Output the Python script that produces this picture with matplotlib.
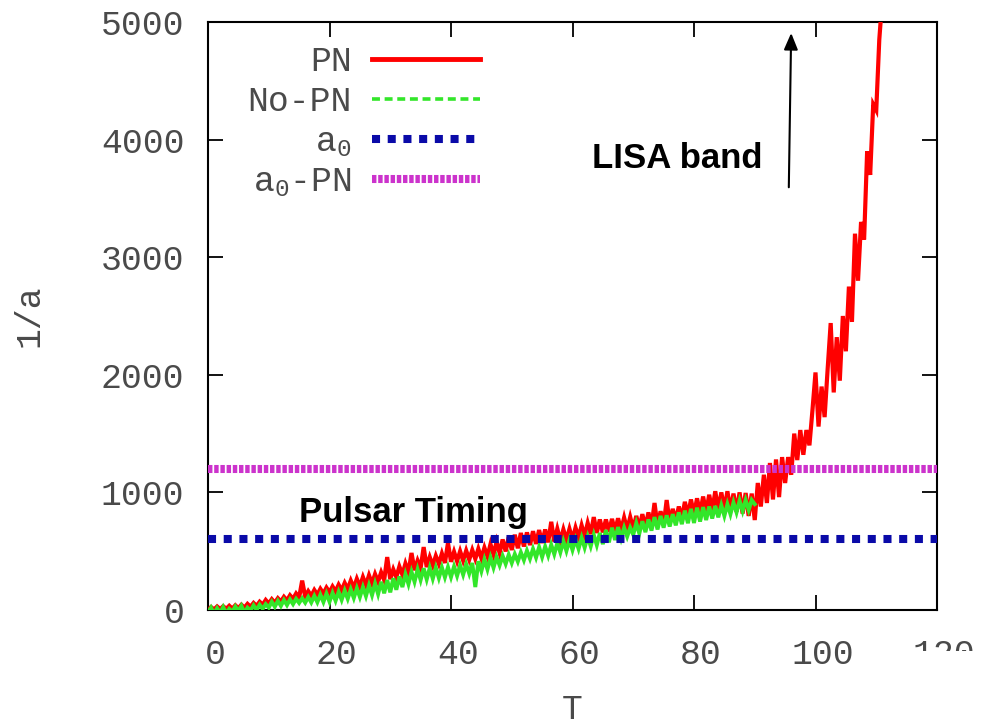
import matplotlib
matplotlib.use("Agg")
import matplotlib.pyplot as plt
import matplotlib.transforms as mtransforms
from matplotlib.lines import Line2D
from matplotlib.patches import Rectangle

# --- data ------------------------------------------------------------------
# common sampling times for both runs (T = 0 ... 90, half steps)
sample_t = [0, 0.5, 1, 1.5, 2, 2.5, 3, 3.5, 4, 4.5,
            5, 5.5, 6, 6.5, 7, 7.5, 8, 8.5, 9, 9.5,
            10, 10.5, 11, 11.5, 12, 12.5, 13, 13.5, 14, 14.5,
            15, 15.5, 16, 16.5, 17, 17.5, 18, 18.5, 19, 19.5,
            20, 20.5, 21, 21.5, 22, 22.5, 23, 23.5, 24, 24.5,
            25, 25.5, 26, 26.5, 27, 27.5, 28, 28.5, 29, 29.5,
            30, 30.5, 31, 31.5, 32, 32.5, 33, 33.5, 34, 34.5,
            35, 35.5, 36, 36.5, 37, 37.5, 38, 38.5, 39, 39.5,
            40, 40.5, 41, 41.5, 42, 42.5, 43, 43.5, 44, 44.5,
            45, 45.5, 46, 46.5, 47, 47.5, 48, 48.5, 49, 49.5,
            50, 50.5, 51, 51.5, 52, 52.5, 53, 53.5, 54, 54.5,
            55, 55.5, 56, 56.5, 57, 57.5, 58, 58.5, 59, 59.5,
            60, 60.5, 61, 61.5, 62, 62.5, 63, 63.5, 64, 64.5,
            65, 65.5, 66, 66.5, 67, 67.5, 68, 68.5, 69, 69.5,
            70, 70.5, 71, 71.5, 72, 72.5, 73, 73.5, 74, 74.5,
            75, 75.5, 76, 76.5, 77, 77.5, 78, 78.5, 79, 79.5,
            80, 80.5, 81, 81.5, 82, 82.5, 83, 83.5, 84, 84.5,
            85, 85.5, 86, 86.5, 87, 87.5, 88, 88.5, 89, 89.5,
            90]

# PN run, 1/a on sample_t
pn_val = [0, 25, 5, 30, 8, 32, 10, 36, 12, 40,
          15, 45, 20, 52, 28, 60, 35, 70, 45, 85,
          55, 92, 62, 100, 72, 112, 82, 125, 95, 140,
          105, 250, 112, 160, 120, 170, 130, 180, 140, 190,
          150, 200, 158, 215, 168, 230, 178, 250, 188, 265,
          200, 280, 212, 295, 225, 305, 240, 320, 255, 450,
          262, 345, 280, 370, 300, 395, 320, 485, 338, 420,
          355, 535, 365, 450, 378, 460, 392, 480, 400, 570,
          410, 495, 415, 500, 420, 505, 428, 510, 435, 520,
          440, 530, 455, 560, 470, 580, 485, 600, 498, 620,
          510, 640, 525, 655, 540, 660, 552, 670, 562, 680,
          570, 685, 575, 750, 582, 690, 590, 685, 596, 690,
          600, 700, 615, 720, 630, 740, 645, 790, 655, 770,
          660, 770, 665, 775, 670, 780, 678, 785, 685, 790,
          690, 800, 696, 815, 702, 830, 708, 910, 714, 840,
          720, 935, 740, 860, 760, 880, 780, 920, 800, 940,
          810, 950, 820, 965, 830, 980, 840, 1010, 848, 1000,
          850, 1010, 845, 990, 835, 1000, 820, 995, 800, 990,
          765]

# PN run continues after the No-PN run stops
pn_tail_t = [90.5, 91, 91.5, 92, 92.5, 93, 93.5, 94, 94.5, 95,
             95.5, 96, 96.5, 97, 97.5, 98, 98.5, 99, 99.5, 100,
             100.5, 101, 101.5, 102, 102.5, 103, 103.5, 104, 104.5, 105,
             105.5, 106, 106.5, 107, 107.5, 108, 108.5, 109, 109.5, 110,
             110.5, 111]
pn_tail_val = [1080, 880, 1150, 910, 1250, 940, 1280, 960, 1300, 1080,
               1300, 1150, 1500, 1275, 1530, 1320, 1530, 1400, 1700, 2020,
               1560, 1900, 1640, 2050, 2440, 1850, 2320, 1950, 2500, 2200,
               2750, 2450, 3200, 2800, 3300, 3150, 3900, 3700, 4300, 4250,
               4850, 5200]

# No-PN run, 1/a on sample_t
nopn_val = [-20, 20, -35, 15, -25, 25, -30, 10, -15, 30,
            -10, 35, -25, 20, -5, 40, 0, 45, 10, 50,
            20, 70, 28, 78, 35, 85, 42, 90, 50, 95,
            60, 100, 62, 110, 64, 120, 66, 130, 68, 140,
            70, 145, 78, 155, 86, 165, 95, 175, 102, 185,
            110, 195, 118, 210, 126, 225, 135, 240, 142, 255,
            150, 270, 172, 285, 195, 305, 220, 325, 240, 345,
            255, 355, 260, 358, 266, 360, 272, 362, 278, 365,
            280, 370, 290, 380, 300, 390, 310, 400, 195, 415,
            330, 430, 345, 445, 360, 450, 380, 460, 392, 470,
            400, 475, 412, 490, 424, 505, 436, 520, 446, 535,
            450, 540, 462, 555, 475, 570, 490, 585, 502, 595,
            510, 600, 520, 615, 530, 625, 542, 640, 552, 655,
            560, 680, 575, 700, 595, 705, 610, 700, 625, 700,
            640, 740, 650, 755, 662, 770, 675, 790, 685, 800,
            700, 805, 710, 815, 720, 830, 730, 845, 738, 860,
            740, 870, 752, 875, 765, 880, 778, 885, 788, 890,
            800, 900, 815, 915, 830, 930, 842, 935, 850, 935,
            900]

# constant levels
a0_level = 600
a0_pn_level = 1200

x_ticks = [0, 20, 40, 60, 80, 100, 120]
y_ticks = [0, 1000, 2000, 3000, 4000, 5000]

# --- figure -----------------------------------------------------------------
mono = "Liberation Mono"
plt.rcParams["font.family"] = mono
plt.rcParams["mathtext.fontset"] = "custom"
plt.rcParams["mathtext.rm"] = mono
plt.rcParams["mathtext.it"] = mono

red, green, blue, magenta = "#ff0000", "#33e62a", "#0a0aa8", "#cc33cc"
txt_gray = "#4a4a4a"

fig = plt.figure(figsize=(9.81, 7.27), dpi=100)
ax = fig.add_axes([208 / 981, 1 - 610 / 727, 729 / 981, 588 / 727])

ax.plot(sample_t + pn_tail_t, pn_val + pn_tail_val, color=red, lw=3.0,
        solid_joinstyle="miter", zorder=3)
# the No-PN curve is so dense that its dashes merge into a solid band
ax.plot(sample_t, nopn_val, color=green, lw=2.8, solid_joinstyle="miter", zorder=4)
blue_style = dict(color=blue, lw=5.8, ls=(0, (1.0, 0.95)), dash_capstyle="butt")
mag_style = dict(color=magenta, lw=5.8, ls=(0, (0.55, 0.22)), dash_capstyle="butt")
ax.axhline(a0_level, zorder=5, **blue_style)
ax.axhline(a0_pn_level, zorder=5, **mag_style)

ax.set_xlim(0, 120)
ax.set_ylim(0, 5000)
ax.set_xticks(x_ticks)
ax.set_yticks(y_ticks)
ax.tick_params(direction="in", length=11, width=1.3, top=True, right=True,
               labelsize=25, labelcolor=txt_gray)
ax.tick_params(axis="x", pad=20)
ax.tick_params(axis="y", pad=17)
for sp in ax.spines.values():
    sp.set_linewidth(1.5)

# gnuplot puts x labels a little right of the ticks
shift = mtransforms.ScaledTranslation(7 / 100, 0, fig.dpi_scale_trans)
for lab in ax.get_xticklabels():
    lab.set_transform(lab.get_transform() + shift)

ax.set_xlabel("T", fontsize=25, color=txt_gray, labelpad=16)
ax.set_ylabel("1/a", fontsize=25, color=txt_gray, labelpad=40)

handles = [
    Line2D([], [], color=red, lw=3.5),
    Line2D([], [], color=green, lw=2.6, ls=(0, (2.2, 1.3))),
    Line2D([], [], **blue_style),
    Line2D([], [], **mag_style),
]
labels = ["PN", "No-PN", r"$\mathregular{a_0}$", r"$\mathregular{a_0}$-PN"]
leg = ax.legend(handles, labels, loc="upper right", bbox_to_anchor=(272 / 729, 1 - 23 / 588),
                markerfirst=False, frameon=False, fontsize=25, handlelength=3.1,
                handletextpad=0.6, labelspacing=0.2, borderpad=0, borderaxespad=0)
for t in leg.get_texts():
    t.set_color(txt_gray)

ax.text(77.2, 3843, "LISA band", family="Liberation Sans", fontweight="bold",
        fontsize=25, ha="center", va="center", color="black")
ax.text(33.8, 833, "Pulsar Timing", family="Liberation Sans", fontweight="bold",
        fontsize=25, ha="center", va="center", color="black", zorder=6)
ax.annotate("", xy=(96.0, 4930), xytext=(95.6, 3571),
            arrowprops=dict(arrowstyle="-|>,head_length=1.0,head_width=0.42",
                            color="black", lw=1.5))

# the "120" label is cut off in the source image
fig.patches.append(Rectangle((0.92, 0), 0.08, (727 - 651) / 727, transform=fig.transFigure,
                             facecolor="white", edgecolor="none", zorder=10))

fig.savefig("out.png", dpi=100)
